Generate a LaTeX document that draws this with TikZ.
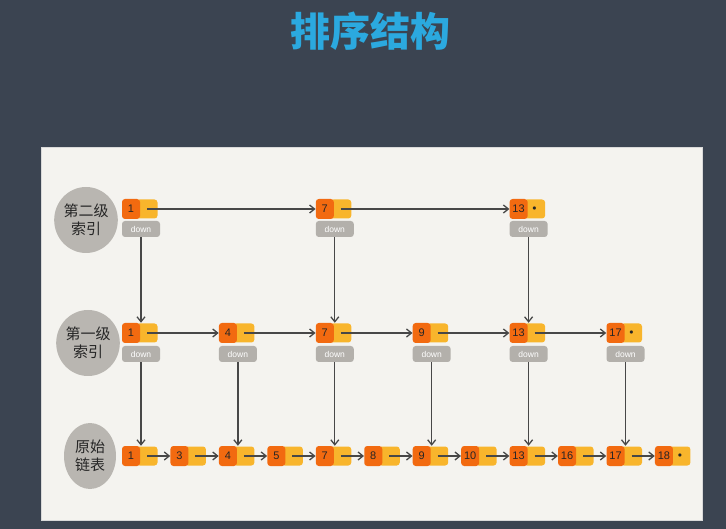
\documentclass[tikz,border=0pt]{standalone}
\usepackage{fontspec}
\setmainfont{Liberation Sans}
\newfontfamily\cjk{Noto Sans CJK SC}
\usetikzlibrary{arrows.meta, positioning, shapes.geometric, calc}
\definecolor{slidebg}{HTML}{3B4451}
\definecolor{panelbg}{HTML}{F4F3EF}
\definecolor{titleblue}{HTML}{2BA9DF}
\definecolor{keyorange}{HTML}{F26A10}
\definecolor{ptryellow}{HTML}{F8B52C}
\definecolor{downgray}{HTML}{B3B0AB}
\definecolor{blobgray}{HTML}{B9B6B1}

\begin{document}
\begin{tikzpicture}[
  x=1pt, y=-1pt,
  >={Straight Barb[length=5pt, width=8pt]},
  key/.style={
    rectangle, rounded corners=3pt, fill=keyorange,
    minimum width=18pt, minimum height=20pt, inner sep=0pt,
    font=\fontsize{11}{11}\selectfont, text=black!85
  },
  ptr/.style={
    rectangle, rounded corners=3pt, fill=ptryellow,
    minimum width=21pt, minimum height=19pt, inner sep=0pt,
    font=\fontsize{8}{8}\selectfont, text=black!85
  },
  downbox/.style={
    rectangle, rounded corners=3pt, fill=downgray,
    minimum width=38pt, minimum height=16pt, inner sep=0pt,
    text=white, font=\fontsize{8.5}{8.5}\selectfont
  },
  blob/.style={
    ellipse, fill=blobgray, minimum width=52pt, minimum height=66pt,
    inner sep=0pt, align=center, text=black!85,
    font=\cjk\fontsize{15}{18}\selectfont
  },
  flow/.style={line width=1.3pt, ->, color=black!72},
  title/.style={font=\cjk\bfseries\fontsize{40}{40}\selectfont, text=titleblue}
]

% Slide and panel
\fill[slidebg] (0,0) rectangle (726,529);
\draw[gray!30, fill=panelbg] (41,147) rectangle (702,520);

% Title
\node[title] (head) at (370,31) {排序结构};

% Level labels
\node[blob] (lbltop) at (86,220) {第二级\\索引};
\node[blob] (lblmid) at (88,343) {第一级\\索引};
\node[blob] (lblbase) at (90,456) {原始\\链表};

% Original list
\foreach \n [count=\i from 0] in {1,3,4,5,7,8,9,10,13,16,17,18} {
  \node[ptr] (bp\i) at ({147+48.45*\i},456) {\ifnum\i=11 $\bullet$\fi};
  \node[key] (b\i) at ({131+48.45*\i},456) {\n};
}

% First level index
\foreach \n [count=\i from 0] in {1,4,7,9,13,17} {
  \node[ptr] (mp\i) at ({147+96.9*\i},333) {\ifnum\i=5 $\bullet$\fi};
  \node[key] (m\i) at ({131+96.9*\i},333) {\n};
  \node[downbox] (md\i) at ({141+96.9*\i},354) {down};
}

% Second level index
\foreach \n [count=\i from 0] in {1,7,13} {
  \node[ptr] (tp\i) at ({147+193.8*\i},209) {\ifnum\i=2 $\bullet$\fi};
  \node[key] (t\i) at ({131+193.8*\i},209) {\n};
  \node[downbox] (td\i) at ({141+193.8*\i},229) {down};
}

% Next pointers
\foreach \i [evaluate=\i as \j using int(\i+1)] in {0,...,10}
  \draw[flow] (bp\i.center) -- (b\j.west);
\foreach \i [evaluate=\i as \j using int(\i+1)] in {0,...,4}
  \draw[flow] (mp\i.center) -- (m\j.west);
\foreach \i [evaluate=\i as \j using int(\i+1)] in {0,1}
  \draw[flow] (tp\i.center) -- (t\j.west);

% Down pointers
\foreach \i [evaluate=\i as \k using int(2*\i)] in {0,1,2}
  \draw[flow] (td\i.south) -- (td\i.south |- m\k.north);
\foreach \i [evaluate=\i as \k using int(2*\i)] in {0,...,5}
  \draw[flow] (md\i.south) -- (md\i.south |- b\k.north);

\end{tikzpicture}
\end{document}
